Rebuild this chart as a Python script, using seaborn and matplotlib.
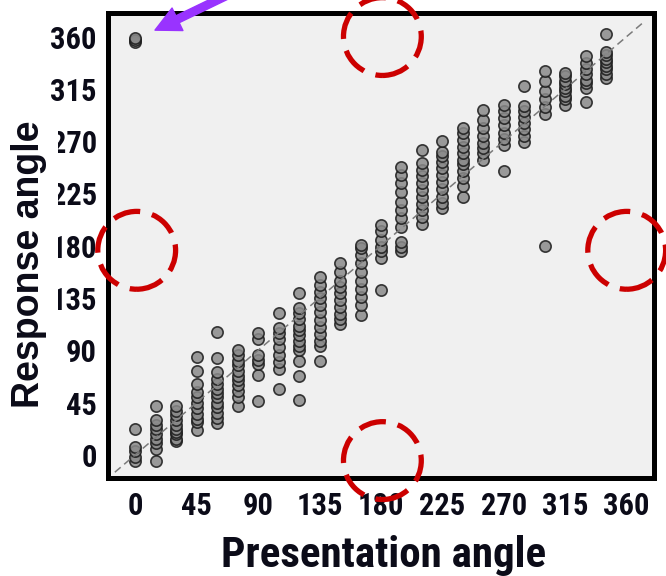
import pandas as pd
import seaborn as sns
import matplotlib.pyplot as plt
from matplotlib.patches import Ellipse
from matplotlib import font_manager as fm

# Presented orientation (degrees) and the responses recorded at each one
presentation_angles = [0, 15, 30, 45, 60, 75, 90, 105, 120, 135, 150, 165,
                       180, 195, 210, 225, 240, 255, 270, 285, 300, 315, 330, 345]

resp_0 = [-5, -2, 3, 7, 22, 355, 357, 359]
resp_15 = [-5, 5, 10, 14, 18, 22, 26, 30, 42]
resp_30 = [12, 14, 18, 20, 22, 26, 30, 34, 38, 42]
resp_45 = [21, 28, 31, 35, 40, 45, 50, 54, 61, 72, 84]
resp_60 = [27, 32, 36, 41, 45, 50, 53, 57, 61, 65, 71, 83, 106]
resp_75 = [42, 50, 55, 60, 64, 68, 72, 77, 81, 86, 90]
resp_90 = [46, 69, 78, 82, 86, 100, 105]
resp_105 = [57, 74, 80, 86, 93, 100, 105, 109, 122]
resp_120 = [47, 68, 81, 90, 94, 98, 103, 107, 111, 117, 122, 126, 139]
resp_135 = [81, 94, 98, 104, 110, 116, 123, 129, 135, 140, 146, 153]
resp_150 = [113, 117, 121, 127, 133, 139, 144, 150, 157, 165]
resp_165 = [120, 129, 136, 143, 150, 157, 165, 172, 178, 181]
resp_180 = [142, 169, 175, 179, 185, 193, 198]
resp_195 = [175, 179, 183, 196, 204, 211, 218, 226, 234, 241, 248]
resp_210 = [199, 205, 211, 216, 222, 228, 234, 240, 245, 251, 262]
resp_225 = [212, 217, 222, 229, 235, 241, 247, 252, 257, 261, 270]
resp_240 = [222, 231, 238, 244, 250, 254, 260, 265, 271, 277, 281]
resp_255 = [254, 260, 264, 268, 274, 281, 288, 297]
resp_270 = [244, 267, 272, 277, 284, 290, 296, 301]
resp_285 = [269, 274, 280, 286, 291, 296, 300, 317]
resp_300 = [180, 293, 299, 306, 313, 322, 330]
resp_315 = [301, 306, 309, 313, 316, 319, 322, 326, 329]
resp_330 = [304, 316, 320, 323, 328, 332, 337, 343]
resp_345 = [324, 328, 332, 335, 338, 341, 344, 347, 362]

tick_values = [0, 45, 90, 135, 180, 225, 270, 315, 360]
tick_labels = ["0", "45", "90", "135", "180", "225", "270", "315", "360"]

# Points that would be expected if responses wrapped round the circle
wrap_centres_x = [181, 1, 360, 181]
wrap_centres_y = [360, 176, 176, -5]

identity_span = [-15, 372]

responses = [resp_0, resp_15, resp_30, resp_45, resp_60, resp_75, resp_90,
             resp_105, resp_120, resp_135, resp_150, resp_165, resp_180,
             resp_195, resp_210, resp_225, resp_240, resp_255, resp_270,
             resp_285, resp_300, resp_315, resp_330, resp_345]
rows = [(a, r) for a, col in zip(presentation_angles, responses) for r in col]
df = pd.DataFrame(rows, columns=["presentation", "response"])

sns.set_style("white")
plt.rcParams["font.family"] = ["Liberation Sans", "DejaVu Sans"]
text_color = "#0b0b18"


def condensed_bold():
    """Return a FontProperties for a narrow bold sans face, if one exists."""
    preferred = ["Liberation Sans Narrow", "Arial Narrow", "Roboto Condensed",
                 "Open Sans Condensed", "DejaVu Sans Condensed",
                 "Noto Sans Condensed"]
    fonts = fm.fontManager.ttflist
    for name in preferred:
        for f in fonts:
            if f.name == name and (f.weight in ("bold", 700) or "Bold" in f.fname):
                return fm.FontProperties(fname=f.fname)
    for f in fonts:
        if f.stretch in ("condensed", "semi-condensed", "extra-condensed") \
                and (f.weight in ("bold", 700) or "Bold" in f.fname) \
                and "Mono" not in f.name and "Serif" not in f.name:
            return fm.FontProperties(fname=f.fname)
    return None


narrow_fp = condensed_bold()


def label_font(size):
    if narrow_fp is not None:
        fp = narrow_fp.copy()
        fp.set_size(size)
        return fp
    return fm.FontProperties(family=["Liberation Sans", "DejaVu Sans"],
                             weight="bold", size=size)


fig = plt.figure(figsize=(6.66, 5.76), dpi=100)
ax = fig.add_axes([0.1622, 0.1701, 0.8198, 0.8068])
ax.set_facecolor("#f0f0f0")

sns.scatterplot(data=df, x="presentation", y="response", ax=ax, s=66,
                color="#8a8a8a", edgecolor="#1a1a1a", linewidth=1.2,
                alpha=0.85, zorder=3, legend=False)

ax.plot(identity_span, identity_span, linestyle=(0, (5, 3)), color="#7a7a7a",
        linewidth=1.1, zorder=4)

ax.set_xlim(-20, 380)
ax.set_ylim(-20, 380)
ax.set_xticks(tick_values)
ax.set_yticks(tick_values)

tick_size = 22 if narrow_fp is not None else 19.5
xlabel_size = 31 if narrow_fp is not None else 28
ax.set_xticklabels(tick_labels, fontproperties=label_font(tick_size),
                   color=text_color)
ax.set_yticklabels(tick_labels, fontproperties=label_font(tick_size),
                   color=text_color)
ax.tick_params(axis="x", length=0, pad=9)
ax.tick_params(axis="y", length=0, pad=8)

for side in ["left", "right", "top", "bottom"]:
    ax.spines[side].set_visible(True)
    ax.spines[side].set_linewidth(3.6)
    ax.spines[side].set_color("black")

ax.set_xlabel("Presentation angle", fontproperties=label_font(xlabel_size),
              color=text_color)
ax.xaxis.set_label_coords(0.5046, -0.122)
ax.set_ylabel("Response angle", fontweight="bold", fontsize=27,
              color=text_color,
              bbox=dict(facecolor="white", edgecolor="none",
                        boxstyle="square,pad=0.3"))
ax.yaxis.set_label_coords(-0.1117, 0.4605)

for cx, cy in zip(wrap_centres_x, wrap_centres_y):
    ax.add_patch(Ellipse((cx, cy), width=57, height=67, fill=False,
                         edgecolor="#cc0000", linewidth=3.8,
                         linestyle=(0, (5.2, 2.3)), clip_on=False, zorder=6))

ax.annotate("", xy=(14.4, 365.5), xytext=(77, 401),
            arrowprops=dict(facecolor="#9933ff", edgecolor="#9933ff",
                            width=5.5, headwidth=18, headlength=18, shrink=0),
            annotation_clip=False, zorder=7)

fig.savefig("out.png", dpi=100)
